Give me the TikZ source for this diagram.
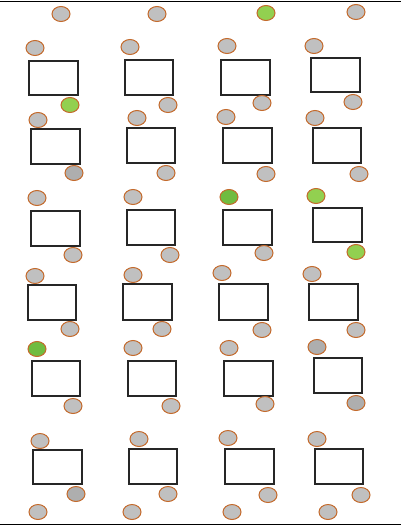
\documentclass[tikz,border=0pt]{standalone}
\usetikzlibrary{shapes.geometric}
\definecolor{rim}{RGB}{196,106,44}
\definecolor{gfill}{RGB}{192,192,192}
\definecolor{dgfill}{RGB}{174,174,174}
\definecolor{lgreen}{RGB}{146,208,80}
\definecolor{dgreen}{RGB}{112,188,64}
\tikzset{
  dot/.style={ellipse,draw=rim,line width=1pt,fill=gfill,minimum width=18pt,minimum height=15pt,inner sep=0pt},
  ddot/.style={dot,fill=dgfill},
  gdot/.style={dot,fill=lgreen},
  ggdot/.style={dot,fill=dgreen},
  box/.style={draw=black!85,line width=1.2pt,fill=white},
  rule/.style={draw=black,line width=1pt}
}
\begin{document}
\begin{tikzpicture}[x=1pt,y=-1pt]
\useasboundingbox (0,0) rectangle (401,527);
\coordinate (tl) at (0,1.5);
\coordinate (tr) at (401,1.5);
\coordinate (bl) at (0,524);
\coordinate (br) at (401,524);
\draw[rule] (tl) -- (tr);
\draw[rule] (bl) -- (br);
% top row
\node[dot] (t1) at (61,14) {};
\node[dot] (t2) at (157,14) {};
\node[gdot] (t3) at (266,13) {};
\node[dot] (t4) at (356,12) {};
% row 1
\node[dot] (a1) at (35,48) {};
\node[dot] (a2) at (130,47) {};
\node[dot] (a3) at (227,46) {};
\node[dot] (a4) at (314,46) {};
\node[box,minimum width=49pt,minimum height=34pt,inner sep=0pt] (r11) at (53.5,78) {};
\node[box,minimum width=48pt,minimum height=35pt,inner sep=0pt] (r12) at (149,77.5) {};
\node[box,minimum width=49pt,minimum height=35pt,inner sep=0pt] (r13) at (245.5,77.5) {};
\node[box,minimum width=49pt,minimum height=34pt,inner sep=0pt] (r14) at (335.5,75) {};
\node[gdot] (b1) at (70,105) {};
\node[dot] (b2) at (168,105) {};
\node[dot] (b3) at (262,103) {};
\node[dot] (b4) at (353,102) {};
% row 2
\node[dot] (a21) at (38,120) {};
\node[dot] (a22) at (137,118) {};
\node[dot] (a23) at (226,117) {};
\node[dot] (a24) at (315,118) {};
\node[box,minimum width=49pt,minimum height=35pt,inner sep=0pt] (r21) at (55.5,146.5) {};
\node[box,minimum width=48pt,minimum height=35pt,inner sep=0pt] (r22) at (151,145.5) {};
\node[box,minimum width=49pt,minimum height=35pt,inner sep=0pt] (r23) at (247.5,145.5) {};
\node[box,minimum width=48pt,minimum height=35pt,inner sep=0pt] (r24) at (337,145.5) {};
\node[ddot] (b21) at (74,173) {};
\node[dot] (b22) at (166,173) {};
\node[dot] (b23) at (266,174) {};
\node[dot] (b24) at (359,174) {};
% row 3
\node[dot] (a31) at (37,198) {};
\node[dot] (a32) at (133,197) {};
\node[ggdot] (a33) at (229,197) {};
\node[gdot] (a34) at (316,196) {};
\node[box,minimum width=49pt,minimum height=35pt,inner sep=0pt] (r31) at (55.5,228.5) {};
\node[box,minimum width=48pt,minimum height=35pt,inner sep=0pt] (r32) at (151,227.5) {};
\node[box,minimum width=49pt,minimum height=35pt,inner sep=0pt] (r33) at (247.5,227.5) {};
\node[box,minimum width=49pt,minimum height=34pt,inner sep=0pt] (r34) at (337.5,225) {};
\node[dot] (b31) at (73,255) {};
\node[dot] (b32) at (170,255) {};
\node[dot] (b33) at (264,253) {};
\node[gdot] (b34) at (356,252) {};
% row 4
\node[dot] (a41) at (35,276) {};
\node[dot] (a42) at (133,275) {};
\node[dot] (a43) at (222,273) {};
\node[dot] (a44) at (312,274) {};
\node[box,minimum width=48pt,minimum height=35pt,inner sep=0pt] (r41) at (52,302.5) {};
\node[box,minimum width=49pt,minimum height=36pt,inner sep=0pt] (r42) at (147.5,302) {};
\node[box,minimum width=49pt,minimum height=36pt,inner sep=0pt] (r43) at (243.5,302) {};
\node[box,minimum width=49pt,minimum height=36pt,inner sep=0pt] (r44) at (333.5,302) {};
\node[dot] (b41) at (70,329) {};
\node[dot] (b42) at (162,329) {};
\node[dot] (b43) at (262,330) {};
\node[dot] (b44) at (356,330) {};
% row 5
\node[ggdot] (a51) at (37,349) {};
\node[dot] (a52) at (133,348) {};
\node[dot] (a53) at (229,348) {};
\node[ddot] (a54) at (317,347) {};
\node[box,minimum width=48pt,minimum height=35pt,inner sep=0pt] (r51) at (56,378.5) {};
\node[box,minimum width=48pt,minimum height=35pt,inner sep=0pt] (r52) at (152,378.5) {};
\node[box,minimum width=49pt,minimum height=35pt,inner sep=0pt] (r53) at (248.5,378.5) {};
\node[box,minimum width=48pt,minimum height=35pt,inner sep=0pt] (r54) at (338,375.5) {};
\node[dot] (b51) at (73,406) {};
\node[dot] (b52) at (171,406) {};
\node[dot] (b53) at (265,404) {};
\node[ddot] (b54) at (356,403) {};
% row 6
\node[dot] (a61) at (40,441) {};
\node[dot] (a62) at (139,439) {};
\node[dot] (a63) at (228,438) {};
\node[dot] (a64) at (317,439) {};
\node[box,minimum width=49pt,minimum height=34pt,inner sep=0pt] (r61) at (57.5,467) {};
\node[box,minimum width=48pt,minimum height=35pt,inner sep=0pt] (r62) at (153,466.5) {};
\node[box,minimum width=49pt,minimum height=35pt,inner sep=0pt] (r63) at (249.5,466.5) {};
\node[box,minimum width=48pt,minimum height=35pt,inner sep=0pt] (r64) at (339,466.5) {};
\node[ddot] (b61) at (76,494) {};
\node[dot] (b62) at (168,494) {};
\node[dot] (b63) at (268,495) {};
\node[dot] (b64) at (361,495) {};
% bottom row
\node[dot] (z1) at (38,512) {};
\node[dot] (z2) at (132,512) {};
\node[dot] (z3) at (232,512) {};
\node[dot] (z4) at (328,512) {};
\end{tikzpicture}
\end{document}
